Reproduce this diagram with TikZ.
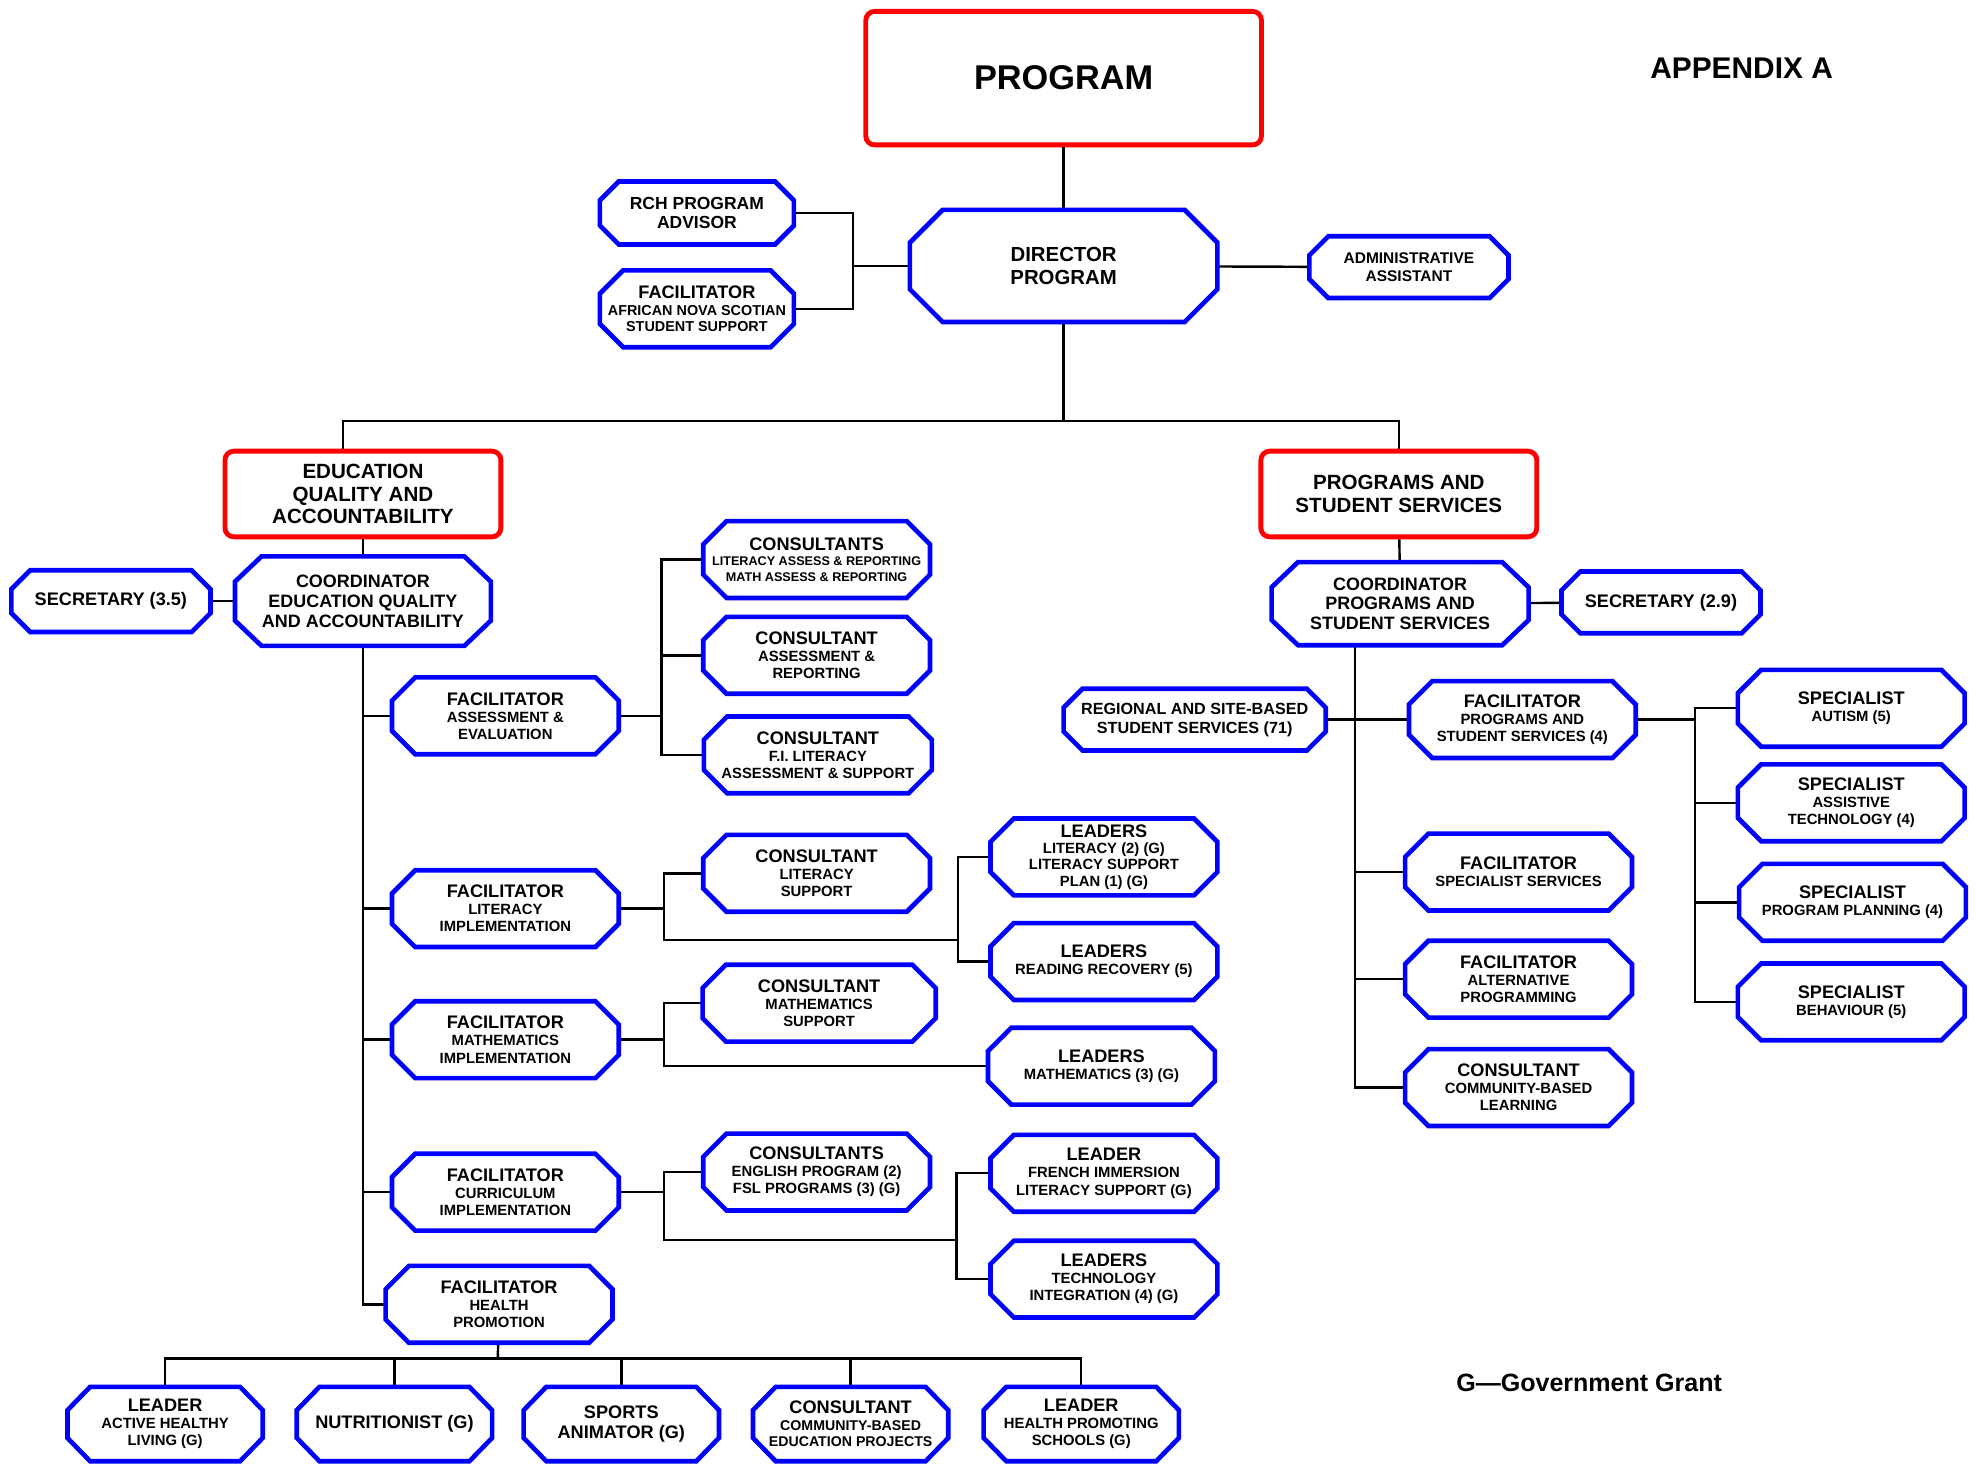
\documentclass[tikz,border=0pt]{standalone}
\usepackage{fontspec}
\setmainfont{Liberation Sans}
\newcommand{\ttl}[1]{{\fontsize{8.2}{9}\selectfont #1}}
% octagon outline round a named node: name, chamfer x, chamfer y
\newcommand{\octo}[3]{\draw[outline] ([xshift=#2]#1.north west) -- ([xshift=-#2]#1.north east)
  -- ([yshift=-#3]#1.north east) -- ([yshift=#3]#1.south east) -- ([xshift=-#2]#1.south east)
  -- ([xshift=#2]#1.south west) -- ([yshift=#3]#1.south west) -- ([yshift=-#3]#1.north west) -- cycle;}

\begin{document}
\begin{tikzpicture}[x=0.02cm,y=-0.02cm,
  post/.style={rectangle,inner sep=0pt,outer sep=0pt,align=center,
    minimum width=3.6cm,minimum height=1.22cm,font=\bfseries\fontsize{6.7}{7.7}\selectfont},
  shortpost/.style={minimum width=3.16cm,minimum height=0.98cm},
  basepost/.style={minimum width=3.1cm,minimum height=1.18cm},
  outline/.style={draw=blue,line width=2.1pt},
  unitbox/.style={draw=red,line width=2.2pt,rounded corners=4pt,fill=white,align=center,
    minimum width=4.38cm,minimum height=1.36cm,font=\bfseries\fontsize{9.3}{10.2}\selectfont},
  wire/.style={line width=1.1pt}]
\useasboundingbox (0,0) rectangle (1568,1161);

% top of the chart
\node[unitbox,minimum width=6.28cm,minimum height=2.12cm,font=\bfseries\fontsize{15.5}{16}\selectfont] (program) at (844,62) {PROGRAM};
\node[font=\bfseries\fontsize{13.5}{14}\selectfont] (appx) at (1382,54) {APPENDIX A};
\node[post,minimum width=4.88cm,minimum height=1.78cm,font=\bfseries\fontsize{9.2}{10.4}\selectfont] (director) at (844,211) {DIRECTOR\\PROGRAM};
\node[post,shortpost,minimum width=3.08cm,minimum height=1cm,font=\bfseries\fontsize{7.9}{8.8}\selectfont] (rch) at (553,169) {RCH PROGRAM\\ADVISOR};
\node[post,minimum width=3.08cm,font=\bfseries\fontsize{6.5}{7.4}\selectfont] (ansa) at (553,245) {\ttl{FACILITATOR}\\AFRICAN NOVA SCOTIAN\\STUDENT SUPPORT};
\node[post,shortpost,font=\bfseries\fontsize{7}{8}\selectfont] (admin) at (1118,212) {ADMINISTRATIVE\\ASSISTANT};

% the two divisions
\node[unitbox] (eqa) at (288,392) {EDUCATION\\QUALITY AND\\ACCOUNTABILITY};
\node[unitbox] (pss) at (1110,392) {PROGRAMS AND\\STUDENT SERVICES};
\node[post,minimum width=4.06cm,minimum height=1.42cm,font=\bfseries\fontsize{8.1}{8.9}\selectfont] (coordeqa) at (288,477) {COORDINATOR\\EDUCATION QUALITY\\AND ACCOUNTABILITY};
\node[post,shortpost,font=\bfseries\fontsize{8.2}{9}\selectfont] (sec35) at (88,477) {SECRETARY (3.5)};
\node[post,minimum width=4.08cm,minimum height=1.32cm,font=\bfseries\fontsize{8.1}{8.9}\selectfont] (coordpss) at (1111,479) {COORDINATOR\\PROGRAMS AND\\STUDENT SERVICES};
\node[post,shortpost,font=\bfseries\fontsize{8.2}{9}\selectfont] (sec29) at (1318,478) {SECRETARY (2.9)};

% education quality side
\node[post] (facae) at (401,568) {\ttl{FACILITATOR}\\ASSESSMENT \&\\EVALUATION};
\node[post,font=\bfseries\fontsize{5.7}{6.9}\selectfont] (cnslit) at (648,444) {\ttl{CONSULTANTS}\\LITERACY ASSESS \& REPORTING\\MATH ASSESS \& REPORTING};
\node[post] (cnsar) at (648,520) {\ttl{CONSULTANT}\\ASSESSMENT \&\\REPORTING};
\node[post,minimum width=3.62cm] (cnsfi) at (649,599) {\ttl{CONSULTANT}\\F.I. LITERACY\\ASSESSMENT \& SUPPORT};
\node[post] (faclit) at (401,721) {\ttl{FACILITATOR}\\LITERACY\\IMPLEMENTATION};
\node[post] (cnslitsup) at (648,693) {\ttl{CONSULTANT}\\LITERACY\\SUPPORT};
\node[post,font=\bfseries\fontsize{6.7}{7.3}\selectfont] (ldrlit) at (876,680) {\ttl{LEADERS}\\LITERACY (2) (G)\\LITERACY SUPPORT\\PLAN (1) (G)};
\node[post] (ldrrr) at (876,763) {\ttl{LEADERS}\\READING RECOVERY (5)};
\node[post] (facmath) at (401,825) {\ttl{FACILITATOR}\\MATHEMATICS\\IMPLEMENTATION};
\node[post,minimum width=3.7cm] (cnsmath) at (650,796) {\ttl{CONSULTANT}\\MATHEMATICS\\SUPPORT};
\node[post] (ldrmath) at (874,846) {\ttl{LEADERS}\\MATHEMATICS (3) (G)};
\node[post] (faccur) at (401,946) {\ttl{FACILITATOR}\\CURRICULUM\\IMPLEMENTATION};
\node[post] (cnseng) at (648,930) {\ttl{CONSULTANTS}\\ENGLISH PROGRAM (2)\\FSL PROGRAMS (3) (G)};
\node[post] (ldrfr) at (876,931) {\ttl{LEADER}\\FRENCH IMMERSION\\LITERACY SUPPORT (G)};
\node[post] (ldrtech) at (876,1015) {\ttl{LEADERS}\\TECHNOLOGY\\INTEGRATION (4) (G)};
\node[post] (fachealth) at (396,1035) {\ttl{FACILITATOR}\\HEALTH\\PROMOTION};

% health promotion row
\node[post,basepost] (ahl) at (131,1130) {\ttl{LEADER}\\ACTIVE HEALTHY\\LIVING (G)};
\node[post,basepost,font=\bfseries\fontsize{8.2}{9}\selectfont] (nut) at (313,1130) {NUTRITIONIST (G)};
\node[post,basepost,font=\bfseries\fontsize{8.2}{9.2}\selectfont] (spa) at (493,1130) {SPORTS\\ANIMATOR (G)};
\node[post,basepost,font=\bfseries\fontsize{6.4}{7.5}\selectfont] (cbe) at (675,1130) {\ttl{CONSULTANT}\\COMMUNITY-BASED\\EDUCATION PROJECTS};
\node[post,basepost] (hps) at (858,1130) {\ttl{LEADER}\\HEALTH PROMOTING\\SCHOOLS (G)};

% programs and student services side
\node[post,shortpost,minimum width=4.16cm,font=\bfseries\fontsize{7.3}{8.6}\selectfont] (regional) at (948,571) {REGIONAL AND SITE-BASED\\STUDENT SERVICES (71)};
\node[post] (facpss) at (1208,571) {\ttl{FACILITATOR}\\PROGRAMS AND\\STUDENT SERVICES (4)};
\node[post] (facspec) at (1205,692) {\ttl{FACILITATOR}\\SPECIALIST SERVICES};
\node[post] (facalt) at (1205,777) {\ttl{FACILITATOR}\\ALTERNATIVE\\PROGRAMMING};
\node[post] (cnscbl) at (1205,863) {\ttl{CONSULTANT}\\COMMUNITY-BASED\\LEARNING};
\node[post] (spaut) at (1469,562) {\ttl{SPECIALIST}\\AUTISM (5)};
\node[post] (spat) at (1469,637) {\ttl{SPECIALIST}\\ASSISTIVE\\TECHNOLOGY (4)};
\node[post] (sppp) at (1470,716) {\ttl{SPECIALIST}\\PROGRAM PLANNING (4)};
\node[post] (spbeh) at (1469,795) {\ttl{SPECIALIST}\\BEHAVIOUR (5)};

\node[font=\bfseries\fontsize{11.3}{12}\selectfont] (grant) at (1261,1097) {G---Government Grant};

% bus points
\coordinate (advbus) at (677,211);
\coordinate (split) at (844,334);
\coordinate (aebus) at (525,568);
\coordinate (litbus) at (527,746);
\coordinate (litbus2) at (760,746);
\coordinate (mathbus) at (527,846);
\coordinate (curbus) at (527,984);
\coordinate (curbus2) at (759,984);
\coordinate (hbus) at (395,1078);
\coordinate (pssbus) at (1075,513);
\coordinate (spbus) at (1345,571);

% connectors
\draw[wire] (program) -- (director);
\draw[wire] (director) -- (advbus);
\draw[wire] (rch) -| (advbus) |- (ansa);
\draw[wire] (director) -- (admin);
\draw[wire] (director) -- (split);
\draw[wire] (split) -| ([xshift=-0.32cm]eqa.north);
\draw[wire] (split) -| (pss);
\draw[wire] (eqa) -- (coordeqa);
\draw[wire] (coordeqa) -- (sec35);
\draw[wire] (pss) -- (coordpss);
\draw[wire] (coordpss) -- (sec29);

\draw[wire] (coordeqa.south) |- (fachealth);
\foreach \n in {facae,faclit,facmath,faccur}
  \draw[wire] (coordeqa.south |- \n) -- (\n);
\draw[wire] (facae) -- (aebus);
\draw[wire] (cnslit) -| (aebus) |- (cnsfi);
\draw[wire] (aebus |- cnsar) -- (cnsar);
\draw[wire] (faclit) -- (faclit -| litbus);
\draw[wire] (cnslitsup) -| (litbus) -- (litbus2);
\draw[wire] (ldrlit) -| (litbus2) |- (ldrrr);
\draw[wire] (facmath) -- (facmath -| mathbus);
\draw[wire] (cnsmath) -| (mathbus) -- (ldrmath);
\draw[wire] (faccur) -- (faccur -| curbus);
\draw[wire] (cnseng) -| (curbus) -- (curbus2);
\draw[wire] (ldrfr) -| (curbus2) |- (ldrtech);
\draw[wire] (fachealth) -- (hbus);
\foreach \n in {ahl,nut,spa,cbe,hps}
  \draw[wire] (hbus) -| (\n);

\draw[wire] (pssbus) |- (cnscbl);
\draw[wire] (regional) -- (facpss);
\foreach \n in {facspec,facalt}
  \draw[wire] (pssbus |- \n) -- (\n);
\draw[wire] (facpss) -- (spbus);
\draw[wire] (spaut) -| (spbus) |- (spbeh);
\foreach \n in {spat,sppp}
  \draw[wire] (spbus |- \n) -- (\n);

% blue outlines
\octo{director}{0.52cm}{0.52cm}
\foreach \n in {coordeqa,coordpss}
  {\octo{\n}{0.42cm}{0.4cm}}
\foreach \n in {rch,admin,sec35,sec29,regional}
  {\octo{\n}{0.3cm}{0.3cm}}
\foreach \n in {ansa,facae,cnslit,cnsar,cnsfi,faclit,cnslitsup,ldrlit,ldrrr,facmath,cnsmath,ldrmath,faccur,cnseng,ldrfr,ldrtech,fachealth,facpss,facspec,facalt,cnscbl,spaut,spat,sppp,spbeh}
  {\octo{\n}{0.37cm}{0.37cm}}
\foreach \n in {ahl,nut,spa,cbe,hps}
  {\octo{\n}{0.36cm}{0.37cm}}
\end{tikzpicture}
\end{document}
